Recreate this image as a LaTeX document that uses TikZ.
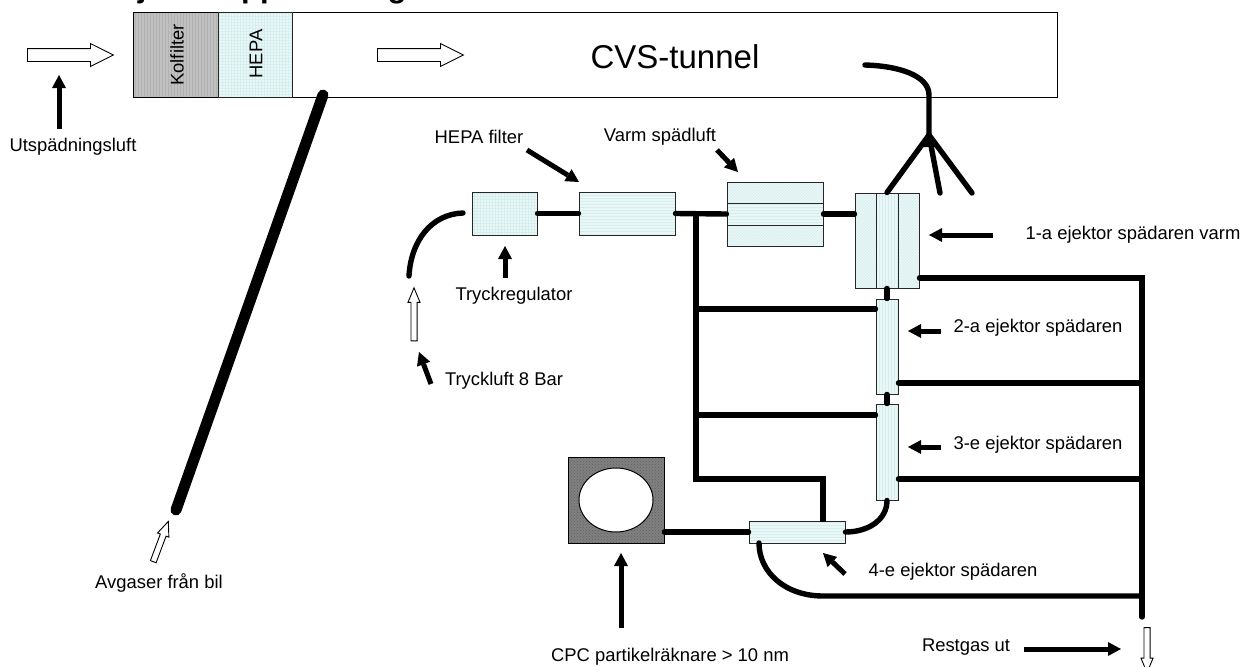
\documentclass[tikz,border=0pt]{standalone}
\usepackage{fontspec}
\setmainfont{Liberation Sans}
\usepackage{xcolor}
\usepackage{tikz}
\usetikzlibrary{shapes.geometric, shapes.arrows, arrows.meta, calc, patterns}
\definecolor{mykol}{RGB}{192,192,192}
\definecolor{myfilter}{RGB}{234,247,247}
\definecolor{mylines}{RGB}{214,238,238}
\tikzset{
  unit/.style={rectangle, draw=black!85, line width=1pt, inner sep=0pt},
  gridblock/.style={unit, preaction={fill=myfilter}, preaction={pattern=grid, pattern color=mylines}},
  hatchblock/.style={unit, preaction={fill=myfilter}, preaction={pattern=north east lines, pattern color=mylines}},
  hlineblock/.style={unit, preaction={fill=myfilter}, preaction={pattern=horizontal lines, pattern color=mylines}},
  vlineblock/.style={unit, preaction={fill=myfilter}, preaction={pattern=vertical lines, pattern color=mylines}},
  label/.style={font=\fontsize{18.4}{20}\selectfont, inner sep=0pt},
  flowarrow/.style={single arrow, draw=black, fill=white, line width=0.9pt, inner xsep=0pt},
  bigflow/.style={flowarrow, inner ysep=6pt, minimum height=86pt,
    single arrow head extend=5pt, single arrow tip angle=53},
  smallflow/.style={flowarrow, inner ysep=2.6pt, minimum height=53pt,
    single arrow head extend=3pt, single arrow tip angle=45},
  pointer/.style={-{Triangle[length=13pt,width=14pt,line width=0pt]}, line width=5pt, color=black},
  pipe/.style={line width=5.4pt, line cap=round, color=black}
}
\begin{document}
\begin{tikzpicture}[x=1pt, y=-1pt]
  \useasboundingbox (0,0) rectangle (1251,667);

  % Heading, cut by the top edge
  \node[anchor=base west, inner sep=0pt, font=\bfseries\fontsize{31}{31}\selectfont] (title) at (117,-3) {Ejektoruppställning};

  % CVS tunnel
  \node[rectangle, draw=black, line width=1pt, fill=white, inner sep=0pt, minimum width=924pt, minimum height=85pt] (tunnel) at (595,54.5) {};
  \node[unit, draw=black, preaction={fill=mykol}, preaction={pattern=vertical lines, pattern color=black!30}, minimum width=85pt, minimum height=85pt] (kol) at (175.5,54.5) {};
  \node[gridblock, minimum width=74pt, minimum height=85pt] (hepatop) at (255,54.5) {};
  \node[label, rotate=90] (kollabel) at (177,55) {Kolfilter};
  \node[label, rotate=90] (hepalabel) at (256,54) {HEPA};
  \node[label, font=\fontsize{33}{36}\selectfont] (cvs) at (675,57) {CVS-tunnel};

  % Flow arrows
  \node[bigflow] (inflow) at (64,55) {};
  \node[bigflow] (tunnelflow) at (414,55) {};
  \node[smallflow, rotate=90] (airflow) at (414,318) {};
  \node[smallflow, rotate=-90, minimum height=45pt] (outflow) at (1147,646.5) {};
  \node[smallflow, rotate=69.5, minimum height=43pt] (exhaustflow) at (159.5,545) {};

  % Line units
  \node[gridblock, minimum width=65pt, minimum height=43pt] (regulator) at (504.5,213.5) {};
  \node[hlineblock, minimum width=96pt, minimum height=43pt] (hepafilter) at (627,213.5) {};
  \node[hatchblock, minimum width=96pt, minimum height=21pt] (varmtop) at (775,192.5) {};
  \node[hlineblock, minimum width=96pt, minimum height=22pt] (varmmid) at (775,214) {};
  \node[hatchblock, minimum width=96pt, minimum height=21pt] (varmbot) at (775,235.5) {};

  % Ejectors
  \node[hatchblock, minimum width=21pt, minimum height=95pt] (ej1left) at (865.5,240.5) {};
  \node[vlineblock, minimum width=22pt, minimum height=95pt] (ej1mid) at (887,240.5) {};
  \node[hatchblock, minimum width=21pt, minimum height=95pt] (ej1right) at (908.5,240.5) {};
  \node[vlineblock, minimum width=22pt, minimum height=95pt] (ej2) at (887,346.5) {};
  \node[vlineblock, minimum width=22pt, minimum height=96pt] (ej3) at (887,452) {};
  \node[hlineblock, minimum width=96pt, minimum height=22pt] (ej4) at (797,532) {};

  % CPC
  \node[unit, draw=black, preaction={fill=black!50}, preaction={pattern=crosshatch dots, pattern color=black!62}, minimum width=96pt, minimum height=86pt] (cpc) at (616,500) {};
  \node[ellipse, draw=black, line width=1pt, fill=white, inner sep=0pt, minimum width=74pt, minimum height=64pt] (cpcwin) at (616,500) {};

  % Free pipe ends
  \coordinate (exhausttop) at (323,95);
  \coordinate (exhaustend) at (176,510);
  \coordinate (airin) at (409,276);
  \coordinate (airout) at (463,213);
  \coordinate (feedtop) at (696,214);
  \coordinate (feedbot) at (696,479);
  \coordinate (feed2) at (696,309);
  \coordinate (feed3) at (696,415);
  \coordinate (feed4) at (823,522);
  \coordinate (resttop) at (1142,278);
  \coordinate (rest2) at (1142,383);
  \coordinate (rest3) at (1142,479);
  \coordinate (rest4) at (1142,596);
  \coordinate (restend) at (1142,617);
  \coordinate (ej4out) at (759,543);
  \coordinate (ej4bend) at (823,596);
  \coordinate (probetip) at (865,65);
  \coordinate (probebend) at (929,95);
  \coordinate (fork) at (929,135);
  \coordinate (legmid) at (940,193);
  \coordinate (legright) at (972,193);

  % Pipes
  \draw[line width=11pt, line cap=round] (exhausttop) -- (exhaustend);
  \draw[pipe] (airin) .. controls (411,240) and (432,214) .. (airout);
  \draw[pipe] (regulator.east) -- (hepafilter.west);
  \draw[pipe] (hepafilter.east) -- (varmmid.west);
  \draw[pipe] (varmmid.east) -- (varmmid.east -| ej1left.west);
  \draw[pipe, line cap=butt] (feedtop) -- (feedbot) -| (feed4);
  \draw[pipe] (feed2) -- (feed2 -| ej2.west);
  \draw[pipe] (feed3) -- (feed3 -| ej3.west);
  \draw[pipe] (ej1mid.south) -- (ej2.north);
  \draw[pipe] (ej2.south) -- (ej3.north);
  \draw[pipe] (resttop -| ej1right.east) -- (resttop) -- (restend);
  \draw[pipe] (rest2 -| ej2.east) -- (rest2);
  \draw[pipe] (rest3 -| ej3.east) -- (rest3);
  \draw[pipe] (ej4.east) .. controls (868,532) and (887,520) .. (ej3.south);
  \draw[pipe] (ej4out) .. controls (759,572) and (785,596) .. (ej4bend) -- (rest4);
  \draw[pipe] (ej4.west -| cpc.east) -- (ej4.west);
  \draw[pipe] (probetip) .. controls (900,66) and (929,76) .. (probebend) -- (fork);
  \draw[pipe] (fork) -- (ej1mid.north);
  \draw[pipe] (fork) -- (legmid);
  \draw[pipe] (fork) -- (legright);
  \fill (fork) ++(0,-3) -- ++(-11,15) -- ++(22,0) -- cycle;

  % Labels
  \node[label] (dilution) at (73,147) {Utspädningsluft};
  \node[label] (hepafilterlabel) at (479,137) {HEPA filter};
  \node[label] (varmlabel) at (660,137) {Varm spädluft};
  \node[label] (reglabel) at (514,296) {Tryckregulator};
  \node[label] (airlabel) at (504,381) {Tryckluft 8 Bar};
  \node[label] (ej1label) at (1133,235) {1-a ejektor spädaren varm};
  \node[label] (ej2label) at (1038,328) {2-a ejektor spädaren};
  \node[label] (ej3label) at (1038,445) {3-e ejektor spädaren};
  \node[label] (ej4label) at (953,572) {4-e ejektor spädaren};
  \node[label] (restlabel) at (966,647) {Restgas ut};
  \node[label] (cpclabel) at (670,657) {CPC partikelräknare > 10 nm};
  \node[label] (exhaustlabel) at (159,583) {Avgaser från bil};

  % Pointers
  \coordinate (dilutiontip) at (59,75);
  \coordinate (dilutiontail) at (59,129);
  \coordinate (hepatip) at (579,182);
  \coordinate (hepatail) at (527,150);
  \coordinate (varmtip) at (738,172);
  \coordinate (varmtail) at (717,150);
  \coordinate (regtip) at (505,246);
  \coordinate (regtail) at (505,278);
  \coordinate (airtip) at (419,352);
  \coordinate (airtail) at (431,384);
  \coordinate (ej1tip) at (929,235);
  \coordinate (ej1tail) at (993,235);
  \coordinate (ej2tip) at (908,331);
  \coordinate (ej2tail) at (941,331);
  \coordinate (ej3tip) at (908,447);
  \coordinate (ej3tail) at (941,447);
  \coordinate (ej4tip) at (823,553);
  \coordinate (ej4tail) at (845,574);
  \coordinate (cpctip) at (621,553);
  \coordinate (cpctail) at (621,628);
  \coordinate (resttip) at (1121,649);
  \coordinate (resttail) at (1024,649);
  \draw[pointer] (dilutiontail) -- (dilutiontip);
  \draw[pointer] (hepatail) -- (hepatip);
  \draw[pointer] (varmtail) -- (varmtip);
  \draw[pointer] (regtail) -- (regtip);
  \draw[pointer] (airtail) -- (airtip);
  \draw[pointer] (ej1tail) -- (ej1tip);
  \draw[pointer] (ej2tail) -- (ej2tip);
  \draw[pointer] (ej3tail) -- (ej3tip);
  \draw[pointer] (ej4tail) -- (ej4tip);
  \draw[pointer] (cpctail) -- (cpctip);
  \draw[pointer] (resttail) -- (resttip);
\end{tikzpicture}
\end{document}
